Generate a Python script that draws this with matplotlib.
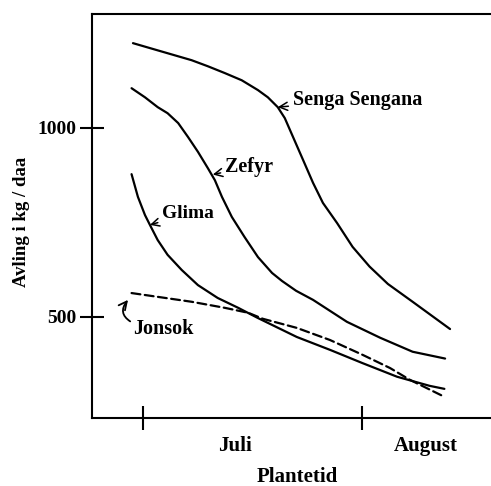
import matplotlib.pyplot as plt

# days after 1 July, yield in kg/daa
senga_x = [-1.4, 2.1, 4.5, 6.9, 9.2, 11.6, 14.0, 16.3, 17.7, 19.1, 20.1, 21.2, 22.7, 24.1,
           25.5, 27.5, 29.7, 32.1, 34.7, 38.2, 43.5]
senga_y = [1223, 1204, 1191, 1178, 1162, 1144, 1125, 1099, 1080, 1054, 1025, 978, 914, 854,
           801, 748, 685, 633, 587, 540, 468]

zefyr_x = [-1.6, 0.3, 2.1, 3.5, 5.0, 6.4, 7.8, 9.2, 10.2, 11.2, 12.6, 14.4, 16.3, 18.3,
           19.7, 21.7, 24.1, 26.5, 28.9, 33.6, 38.2, 42.8]
zefyr_y = [1104, 1080, 1054, 1038, 1012, 975, 936, 893, 861, 817, 764, 711, 658, 616,
           595, 569, 545, 516, 487, 445, 408, 390]

glima_x = [-1.6, -0.7, 0.3, 1.0, 2.1, 3.5, 5.5, 7.8, 10.6, 13.5, 16.3, 21.8, 26.5, 31.1,
           36.0, 40.6, 42.7]
glima_y = [877, 817, 769, 743, 703, 664, 624, 584, 550, 524, 497, 447, 413, 378,
           342, 318, 310]

jonsok_x = [-1.6, 2.1, 6.9, 11.6, 14.9, 17.0, 21.8, 26.5, 31.1, 35.0, 37.8, 42.7]
jonsok_y = [563, 553, 540, 524, 511, 495, 471, 439, 400, 365, 334, 289]

month_ticks = [0, 31]
month_label_pos = [13, 40]
month_labels = ['Juli', 'August']
y_ticks = [500, 1000]

plt.rcParams['font.family'] = ['Liberation Serif', 'DejaVu Serif']
plt.rcParams['font.weight'] = 'bold'

fig = plt.figure(figsize=(4.91, 4.86), dpi=100)
ax = fig.add_axes([0.1874, 0.1399, 0.8126, 0.8313])

lw = 1.6
style = dict(color='black', lw=lw, solid_capstyle='round', solid_joinstyle='round')
ax.plot(senga_x, senga_y, **style)
ax.plot(zefyr_x, zefyr_y, **style)
ax.plot(glima_x, glima_y, **style)
ax.plot(jonsok_x, jonsok_y, color='black', lw=lw, dashes=(4, 2), dash_capstyle='round')

ax.set_xlim(-7.2, 49.3)
ax.set_ylim(233, 1300)

ax.spines['right'].set_visible(False)
for s in ['left', 'bottom', 'top']:
    ax.spines[s].set_linewidth(1.5)

ax.set_yticks(y_ticks)
ax.set_yticklabels([str(v) for v in y_ticks], fontsize=14, fontweight='bold')
ax.set_xticks(month_ticks)
ax.set_xticklabels(['', ''])
ax.set_xticks(month_label_pos, minor=True)
ax.set_xticklabels(month_labels, minor=True, fontsize=15, fontweight='bold')
ax.tick_params(axis='both', which='major', direction='inout', length=17, width=1.5, pad=3)
ax.tick_params(axis='x', which='minor', length=0, pad=13)

arrow = dict(arrowstyle='->', color='black', lw=1.1, shrinkA=1, shrinkB=0)
ax.annotate('Senga Sengana', xy=(senga_x[9], senga_y[9]), xytext=(21.2, 1072),
            ha='left', va='center', fontsize=14.5, fontweight='bold', arrowprops=arrow)
ax.annotate('Zefyr', xy=(9.9, 876), xytext=(11.6, 896),
            ha='left', va='center', fontsize=14.5, fontweight='bold', arrowprops=arrow)
ax.annotate('Glima', xy=(glima_x[3], glima_y[3]), xytext=(2.7, 772),
            ha='left', va='center', fontsize=14, fontweight='bold', arrowprops=arrow)
ax.annotate('Jonsok', xy=(-2.1, 545), xytext=(-1.4, 468),
            ha='left', va='center', fontsize=14.5, fontweight='bold',
            arrowprops=dict(arrowstyle='->', color='black', lw=1.3, shrinkA=0, shrinkB=0,
                            connectionstyle='arc3,rad=-0.6', relpos=(0, 0.8)))

fig.text(22 / 491, 1 - 222 / 486, 'Avling i kg / daa', rotation=90, ha='center', va='center',
         fontsize=13.5, fontweight='bold')
fig.text(297 / 491, 1 - 477 / 486, 'Plantetid', ha='center', va='center',
         fontsize=15, fontweight='bold')

fig.savefig('out.png', dpi=100)
